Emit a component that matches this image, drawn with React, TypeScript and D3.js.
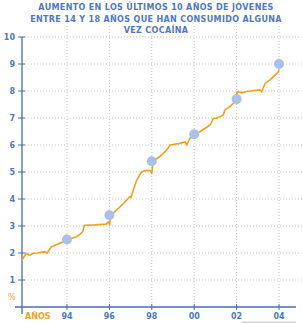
import React from "react";
import * as d3 from "d3";

// milestones (encuesta years) and their values
const pointYears = [94, 96, 98, 100, 102, 104];
const pointValues = [2.5, 3.4, 5.4, 6.4, 7.7, 9.0];

// jagged trend line
const lineYears = [
  91.88, 92.08, 92.24, 92.4, 92.63, 92.95, 93.07, 93.26, 93.66, 94.01, 94.44,
  94.67, 94.75, 94.82, 95.31, 95.85, 95.97, 96.01, 96.05, 96.5, 96.89, 96.97,
  97.02, 97.13, 97.29, 97.52, 97.68, 97.92, 98.0, 98.06, 98.15, 98.47, 98.7,
  98.86, 99.33, 99.57, 99.65, 99.8, 100.0, 100.27, 100.75, 100.9, 101.06,
  101.22, 101.37, 101.45, 101.69, 102.0, 102.02, 102.24, 102.48, 102.71,
  103.1, 103.18, 103.34, 103.58, 103.81, 103.97, 104.0,
];
const lineValues = [
  1.74, 1.99, 1.91, 1.99, 2.0, 2.05, 2.0, 2.23, 2.36, 2.47, 2.6, 2.73, 2.8,
  3.03, 3.04, 3.07, 3.16, 3.04, 3.38, 3.71, 4.02, 4.09, 4.05, 4.33, 4.7, 5.01,
  5.05, 5.05, 4.95, 5.35, 5.44, 5.63, 5.81, 6.0, 6.06, 6.12, 6.0, 6.25, 6.37,
  6.49, 6.74, 6.99, 6.99, 7.05, 7.11, 7.3, 7.42, 7.67, 7.97, 7.94, 7.98, 8.01,
  8.04, 7.96, 8.28, 8.41, 8.59, 8.71, 8.8,
];

const yTicks = [1, 2, 3, 4, 5, 6, 7, 8, 9, 10];
const xTickLabels = ["94", "96", "98", "00", "02", "04"];
const titleLines = [
  "AUMENTO EN LOS ÚLTIMOS 10 AÑOS DE JÓVENES",
  "ENTRE 14 Y 18 AÑOS QUE HAN CONSUMIDO ALGUNA",
  "VEZ COCAÍNA",
];

const W = 302;
const H = 324;
const blue = "#4f78c4";
const axisBlue = "#4a6fae";
const orange = "#f0a21c";
const font = "Verdana, 'DejaVu Sans', sans-serif";

export default function App() {
  const x = d3.scaleLinear().domain([91.88, 104.8]).range([22, 296]);
  const y = d3.scaleLinear().domain([0, 10]).range([307, 37]);

  const line = d3
    .line<number>()
    .x((_, i) => x(lineYears[i]))
    .y((d) => y(d));

  return (
    <svg
      width={W}
      height={H}
      style={{ position: "fixed", left: 0, top: 0, background: "#fff" }}
      fontFamily={font}
    >
      {/* title */}
      {titleLines.map((t, i) => (
        <text
          key={t}
          x={156}
          y={10 + i * 11.5}
          textAnchor="middle"
          fontSize={8}
          fontWeight="bold"
          fill={blue}
          letterSpacing={0.35}
        >
          {t}
        </text>
      ))}

      {/* grid */}
      {yTicks.map((t) => (
        <line
          key={"h" + t}
          x1={x.range()[0]}
          x2={W}
          y1={y(t)}
          y2={y(t)}
          stroke="#c8c8c8"
          strokeWidth={1}
          strokeDasharray="1,2"
        />
      ))}
      {pointYears.map((yr) => (
        <line
          key={"v" + yr}
          x1={x(yr)}
          x2={x(yr)}
          y1={26}
          y2={y(0)}
          stroke="#c8c8c8"
          strokeWidth={1}
          strokeDasharray="1,2"
        />
      ))}

      {/* axes */}
      <line x1={x.range()[0]} x2={x.range()[0]} y1={y(10)} y2={314} stroke={axisBlue} strokeWidth={1.3} />
      <line x1={15} x2={x.range()[1]} y1={y(0)} y2={y(0)} stroke={axisBlue} strokeWidth={1.3} />
      {yTicks.map((t) => (
        <g key={"yt" + t}>
          <line x1={18} x2={25} y1={y(t)} y2={y(t)} stroke={axisBlue} strokeWidth={1} />
          <text x={15} y={y(t)} dy="0.35em" textAnchor="end" fontSize={8} fontWeight="bold" fill={blue}>
            {t}
          </text>
        </g>
      ))}
      {pointYears.map((yr, i) => (
        <g key={"xt" + yr}>
          <line x1={x(yr)} x2={x(yr)} y1={y(0) - 3} y2={y(0) + 3} stroke={axisBlue} strokeWidth={1} />
          <text x={x(yr)} y={y(0) + 9} dy="0.35em" textAnchor="middle" fontSize={8} fontWeight="bold" fill={blue}>
            {xTickLabels[i]}
          </text>
        </g>
      ))}
      <text x={8} y={297} dy="0.35em" fontSize={8} fill={orange}>
        %
      </text>
      <text x={25} y={y(0) + 9} dy="0.35em" fontSize={8} fontWeight="bold" fill={orange}>
        AÑOS
      </text>

      {/* trend */}
      <path d={line(lineValues) ?? ""} fill="none" stroke={orange} strokeWidth={1.6} strokeLinejoin="round" />
      {pointYears.map((yr, i) => (
        <circle key={"p" + yr} cx={x(yr)} cy={y(pointValues[i])} r={5} fill="#a9c1ea" />
      ))}

      {/* light rule at the bottom right */}
      <rect x={242} y={321.5} width={54} height={1.5} fill="#d4d4d4" />
    </svg>
  );
}
